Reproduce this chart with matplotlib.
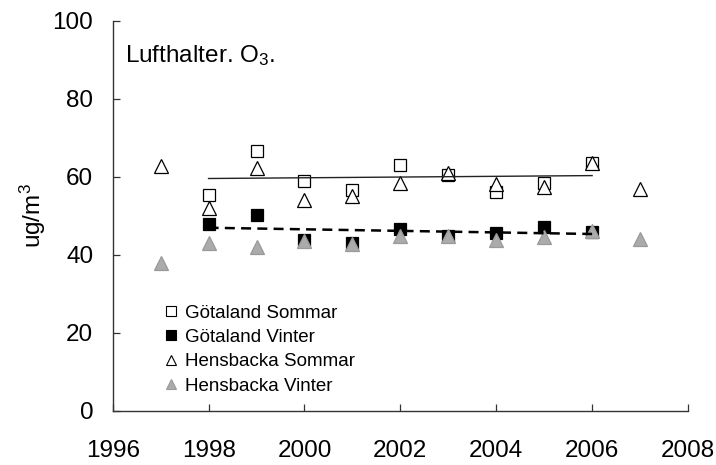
import numpy as np
import matplotlib
matplotlib.use("Agg")
import matplotlib.pyplot as plt
from matplotlib.lines import Line2D

plt.rcParams['font.family'] = ['Liberation Sans', 'DejaVu Sans']

years_g = [1998, 1999, 2000, 2001, 2002, 2003, 2004, 2005, 2006]
gotaland_sommar = [55.4, 66.7, 59.0, 56.7, 62.9, 60.5, 56.0, 58.5, 63.5]
gotaland_vinter = [47.9, 50.2, 43.8, 43.0, 46.7, 44.9, 45.5, 47.1, 45.9]
years_h = [1997, 1998, 1999, 2000, 2001, 2002, 2003, 2004, 2005, 2006, 2007]
hensbacka_sommar = [62.8, 51.9, 62.2, 54.1, 55.1, 58.5, 60.9, 58.2, 57.4, 63.5, 56.9]
hensbacka_vinter = [38.0, 43.0, 42.1, 43.6, 42.8, 44.7, 44.7, 43.8, 44.5, 46.0, 44.0]
labels = ['Götaland Sommar', 'Götaland Vinter', 'Hensbacka Sommar', 'Hensbacka Vinter']
xticks = [1996, 1998, 2000, 2002, 2004, 2006, 2008]
yticks = [0, 20, 40, 60, 80, 100]

W, H = 716, 465
fig = plt.figure(figsize=(W / 100, H / 100), dpi=100)
l, r, t, b = 112.7, 688, 20.7, 410.7
ax = fig.add_axes([l / W, (H - b) / H, (r - l) / W, (b - t) / H])

ms = 8.5
grey = '#ababab'
ax.plot(years_g, gotaland_sommar, ls='none', marker='s', ms=ms, mfc='white', mec='black', mew=0.9, zorder=3)
ax.plot(years_g, gotaland_vinter, ls='none', marker='s', ms=ms, mfc='black', mec='black', mew=0.9, zorder=3)
ax.plot(years_h, hensbacka_sommar, ls='none', marker='^', ms=ms + 1, mfc='white', mec='black', mew=0.9, zorder=4)
ax.plot(years_h, hensbacka_vinter, ls='none', marker='^', ms=ms + 1, mfc=grey, mec='#9a9a9a', mew=0.9, zorder=4)

xg = np.array(years_g, dtype=float)
p1 = np.polyfit(xg, gotaland_sommar, 1)
p2 = np.polyfit(xg, gotaland_vinter, 1)
xl = np.array([xg[0], xg[-1]])
ax.plot(xl, np.polyval(p1, xl), color='#222222', lw=1.0, zorder=5)
ax.plot(xl, np.polyval(p2, xl), color='black', lw=1.8, ls=(0, (4, 2.5)), zorder=5)

ax.set_xlim(1996, 2008)
ax.set_ylim(0, 100)
ax.set_xticks(xticks)
ax.set_yticks(yticks)
ax.tick_params(direction='in', length=5, width=0.9, color='#333333', labelsize=17.5)
ax.tick_params(axis='x', pad=21)
ax.tick_params(axis='y', pad=14)
for s in ['top', 'right']:
    ax.spines[s].set_visible(False)
for s in ['left', 'bottom']:
    ax.spines[s].set_color('#333333')
    ax.spines[s].set_linewidth(1.0)

ax.set_ylabel(r'ug/m$\mathregular{^3}$', fontsize=17.5, labelpad=3)
ax.text(125 / W, 1 - 56 / H, r'Lufthalter. O$\mathregular{_3}$.', transform=fig.transFigure,
        fontsize=17.5, va='center', ha='left')

handles = [
    Line2D([], [], ls='none', marker='s', ms=7, mfc='white', mec='black', mew=0.8),
    Line2D([], [], ls='none', marker='s', ms=7, mfc='black', mec='black', mew=0.8),
    Line2D([], [], ls='none', marker='^', ms=7.5, mfc='white', mec='black', mew=0.8),
    Line2D([], [], ls='none', marker='^', ms=7.5, mfc=grey, mec='#9a9a9a', mew=0.8),
]
fig.legend(handles, labels, loc='upper left', bbox_to_anchor=(156 / W, 1 - 295 / H),
           frameon=False, fontsize=13.5, handlelength=0.6, handletextpad=0.45,
           labelspacing=0.39, borderpad=0)

fig.savefig('out.png', dpi=100)
